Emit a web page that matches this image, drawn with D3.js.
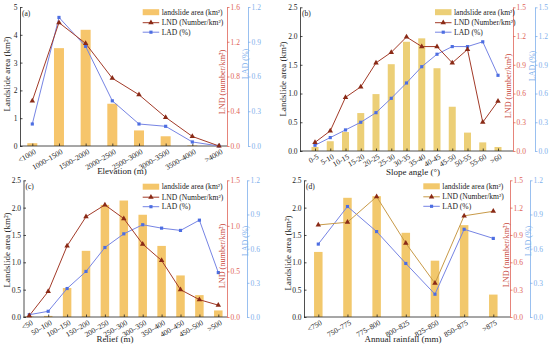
<!DOCTYPE html>
<html lang="en">
<head>
<meta charset="UTF-8">
<title>Landslide distribution</title>
<script src="https://cdn.jsdelivr.net/npm/d3@7"></script>
<style>
  html, body { margin: 0; padding: 0; background: #fff; }
  svg { display: block; font-family: "Liberation Serif", "Times New Roman", serif; }
</style>
</head>
<body>
<script>
// (a) elevation
const elevCats = ["<1000", "1000–1500", "1500–2000", "2000–2500", "2500–3000", "3000–3500", "3500–4000", ">4000"];
const elevArea = [0.1, 3.52, 4.18, 1.52, 0.56, 0.35, 0.02, 0];
const elevLND  = [0.52, 1.42, 1.18, 0.78, 0.59, 0.33, 0.11, 0.0];
const elevLAD  = [0.19, 1.11, 0.86, 0.39, 0.19, 0.17, 0.035, 0.0];

// (b) slope angle
const slopeCats = ["0-5", "5-10", "10-15", "15-20", "20-25", "25-30", "30-35", "35-40", "40-45", "45-50", "50-55", "55-60", ">60"];
const slopeArea = [0.07, 0.17, 0.33, 0.66, 0.99, 1.51, 1.90, 1.96, 1.44, 0.77, 0.32, 0.15, 0.07];
const slopeLND  = [0.09, 0.21, 0.56, 0.67, 0.92, 1.03, 1.19, 1.09, 1.09, 0.92, 1.06, 0.30, 0.52];
const slopeLAD  = [0.06, 0.14, 0.22, 0.30, 0.40, 0.55, 0.71, 0.88, 1.01, 1.09, 1.09, 1.14, 0.79];

// (c) relief
const reliefCats = ["<50", "50–100", "100–150", "150–200", "200–250", "250–300", "300–350", "350–400", "400–450", "450–500", ">500"];
const reliefArea = [0.01, 0.02, 0.53, 1.21, 2.05, 2.13, 1.87, 1.30, 0.76, 0.40, 0.12];
const reliefLND  = [0.015, 0.28, 0.78, 1.10, 1.23, 1.08, 0.80, 0.62, 0.30, 0.19, 0.13];
const reliefLAD  = [0.02, 0.05, 0.25, 0.40, 0.61, 0.73, 0.81, 0.78, 0.76, 0.85, 0.39];

// (d) annual rainfall
const rainCats = ["<750", "750–775", "775–800", "800–825", "825–850", "850–875", ">875"];
const rainArea = [1.19, 2.18, 2.21, 1.54, 1.03, 1.68, 0.41];
const rainLND  = [1.01, 1.04, 1.32, 0.81, 0.37, 1.11, 1.16];
const rainLAD  = [0.64, 0.97, 0.75, 0.47, 0.20, 0.77, 0.69];

// tick labels
const areaTicksA = [0, 1, 2, 3, 4, 5];
const areaTicks = [0, 0.5, 1.0, 1.5, 2.0, 2.5];
const lndTicksA = [0, 0.4, 0.8, 1.2, 1.6];
const lndTicks03 = [0, 0.3, 0.6, 0.9, 1.2, 1.5];
const lndTicksC = [0, 0.5, 1.0, 1.5];
const ladTicks12 = [0, 0.3, 0.6, 0.9, 1.2];
const ladTicks15 = [0, 0.3, 0.6, 0.9, 1.2, 1.5];

const legendLabels = ["landslide area (km²)", "LND (Number/km²)", "LAD (%)"];

const lndAxisColor = "#e06458";
const ladAxisColor = "#7fb0ec";
const ladLine = "#7684e4";
const ladMark = "#4d6ee2";

const svg = d3.select("body").append("svg")
  .attr("width", 550)
  .attr("height", 346);

function styleAxis(ax, color) {
  ax.attr("font-family", null).attr("font-size", 7.5).attr("color", color);
  ax.selectAll("path, line").attr("stroke-width", 0.8);
}

function drawPanel(p) {
  const g = svg.append("g");
  const x = d3.scalePoint().domain(p.cats).range([p.first, p.last]);
  const yA = d3.scaleLinear().domain([0, p.areaMax]).range([p.bottom, p.top]);
  const yN = d3.scaleLinear().domain([0, p.lndMax]).range([p.bottom, p.top]);
  const yD = d3.scaleLinear().domain([0, p.ladMax]).range([p.bottom, p.top]);

  // bars
  g.append("g").selectAll("rect")
    .data(p.cats)
    .join("rect")
    .attr("x", d => x(d) - p.barW / 2)
    .attr("width", p.barW)
    .attr("y", (d, i) => yA(p.area[i]))
    .attr("height", (d, i) => yA(0) - yA(p.area[i]))
    .attr("fill", p.barColor);

  // left axis, ticks pointing in
  g.append("g")
    .attr("transform", `translate(${p.left},0)`)
    .call(d3.axisLeft(yA).tickValues(p.areaTicks).tickFormat(p.areaFmt).tickSize(-2.5).tickSizeOuter(0).tickPadding(2.5))
    .call(ax => styleAxis(ax, "#222"));

  // bottom axis
  g.append("line")
    .attr("x1", p.left).attr("x2", p.right)
    .attr("y1", p.bottom).attr("y2", p.bottom)
    .attr("stroke", "#222").attr("stroke-width", 0.8);
  const xAx = g.append("g")
    .attr("transform", `translate(0,${p.bottom})`)
    .call(d3.axisBottom(x).tickSize(-2.5).tickSizeOuter(0).tickFormat(""));
  xAx.select(".domain").remove();
  styleAxis(xAx, "#222");

  g.append("g").selectAll("text")
    .data(p.cats)
    .join("text")
    .attr("transform", d => `translate(${x(d) + 3},${p.bottom + 5}) rotate(-30)`)
    .attr("text-anchor", "end")
    .attr("dominant-baseline", "central")
    .attr("font-size", 7.5)
    .attr("fill", "#222")
    .text(d => d);

  // LND axis
  g.append("g")
    .attr("transform", `translate(${p.right},0)`)
    .call(d3.axisRight(yN).tickValues(p.lndTicks).tickFormat(d3.format(p.lndFmt)).tickSize(2.5).tickSizeOuter(0).tickPadding(1))
    .call(ax => styleAxis(ax, lndAxisColor));

  // LAD axis
  g.append("g")
    .attr("transform", `translate(${p.lad},0)`)
    .call(d3.axisRight(yD).tickValues(p.ladTicks).tickFormat(d3.format(".1f")).tickSize(2.5).tickSizeOuter(0).tickPadding(1))
    .call(ax => styleAxis(ax, ladAxisColor));

  // lines
  const lndLine = d3.line().x((d, i) => x(p.cats[i])).y(d => yN(d));
  const ladLineGen = d3.line().x((d, i) => x(p.cats[i])).y(d => yD(d));

  g.append("path").attr("d", ladLineGen(p.lad_)).attr("fill", "none")
    .attr("stroke", ladLine).attr("stroke-width", 1);
  g.append("path").attr("d", lndLine(p.lnd)).attr("fill", "none")
    .attr("stroke", p.lndLine).attr("stroke-width", 1);

  const tri = d3.symbol(d3.symbolTriangle).size(13);
  const sq = d3.symbol(d3.symbolSquare).size(10);

  g.append("g").selectAll("path")
    .data(p.lad_)
    .join("path")
    .attr("d", sq)
    .attr("transform", (d, i) => `translate(${x(p.cats[i])},${yD(d)})`)
    .attr("fill", ladMark);
  g.append("g").selectAll("path")
    .data(p.lnd)
    .join("path")
    .attr("d", tri)
    .attr("transform", (d, i) => `translate(${x(p.cats[i])},${yN(d)})`)
    .attr("fill", "#8a2a16");

  // titles
  g.append("text")
    .attr("transform", `translate(${p.leftTitle[0]},${p.leftTitle[1]}) rotate(-90)`)
    .attr("text-anchor", "middle").attr("dominant-baseline", "central")
    .attr("font-size", 9).attr("fill", "#222")
    .text("Landslide area (km²)");
  g.append("text")
    .attr("transform", `translate(${p.lndTitle[0]},${p.lndTitle[1]}) rotate(-90)`)
    .attr("text-anchor", "middle").attr("dominant-baseline", "central")
    .attr("font-size", 8.2).attr("fill", "#c9473c")
    .text("LND (number/km²)");
  g.append("text")
    .attr("transform", `translate(${p.ladTitle[0]},${p.ladTitle[1]}) rotate(-90)`)
    .attr("text-anchor", "middle").attr("dominant-baseline", "central")
    .attr("font-size", 8).attr("fill", ladAxisColor)
    .text("LAD (%)");
  g.append("text")
    .attr("x", p.xTitle[0]).attr("y", p.xTitle[1])
    .attr("text-anchor", "middle").attr("dominant-baseline", "central")
    .attr("font-size", 9).attr("fill", "#222")
    .text(p.xLabel);
  g.append("text")
    .attr("x", p.left + 2).attr("y", p.top + 6)
    .attr("dominant-baseline", "central")
    .attr("font-size", 7.5).attr("fill", "#222")
    .text(p.tag);

  // legend
  const lg = g.append("g").attr("transform", `translate(${p.legend[0]},${p.legend[1]})`);
  const rowY = [0, 10.5, 20];
  lg.append("rect").attr("x", 0).attr("y", rowY[0] - 3).attr("width", 16.5).attr("height", 6).attr("fill", p.barColor);
  lg.append("line").attr("x1", 0).attr("x2", 16.5).attr("y1", rowY[1]).attr("y2", rowY[1])
    .attr("stroke", p.lndLine).attr("stroke-width", 1);
  lg.append("path").attr("d", tri).attr("transform", `translate(8.25,${rowY[1]})`).attr("fill", "#8a2a16");
  lg.append("line").attr("x1", 0).attr("x2", 16.5).attr("y1", rowY[2]).attr("y2", rowY[2])
    .attr("stroke", ladLine).attr("stroke-width", 1);
  lg.append("path").attr("d", sq).attr("transform", `translate(8.25,${rowY[2]})`).attr("fill", ladMark);
  lg.selectAll("text.lab")
    .data(legendLabels)
    .join("text")
    .attr("x", 19)
    .attr("y", (d, i) => rowY[i])
    .attr("dominant-baseline", "central")
    .attr("font-size", 7.6)
    .attr("fill", "#222")
    .text(d => d);
}

drawPanel({
  tag: "(a)", cats: elevCats, area: elevArea, lnd: elevLND, lad_: elevLAD,
  left: 20, right: 227, lad: 248, top: 7, bottom: 146, first: 32.3, last: 219,
  areaMax: 5, lndMax: 1.6, ladMax: 1.2, barW: 10, barColor: "#f6c56b",
  areaTicks: areaTicksA, areaFmt: d3.format("d"), lndTicks: lndTicksA, lndFmt: ".1f", ladTicks: ladTicks12,
  lndLine: "#a23a28",
  leftTitle: [7, 74], lndTitle: [222, 82], ladTitle: [245, 64], xTitle: [122, 171], xLabel: "Elevation (m)",
  legend: [142.7, 12.2]
});

drawPanel({
  tag: "(b)", cats: slopeCats, area: slopeArea, lnd: slopeLND, lad_: slopeLAD,
  left: 300, right: 513, lad: 535, top: 7.3, bottom: 151, first: 315, last: 498,
  areaMax: 2.5, lndMax: 1.5, ladMax: 1.5, barW: 7, barColor: "#eccf77",
  areaTicks: areaTicks, areaFmt: d3.format(".1f"), lndTicks: lndTicks03, lndFmt: ".1f", ladTicks: ladTicks15,
  lndLine: "#a23a28",
  leftTitle: [283, 79], lndTitle: [508, 86], ladTitle: [532, 66], xTitle: [413, 172], xLabel: "Slope angle (°)",
  legend: [435, 12.2]
});

drawPanel({
  tag: "(c)", cats: reliefCats, area: reliefArea, lnd: reliefLND, lad_: reliefLAD,
  left: 23.5, right: 227, lad: 247, top: 180.3, bottom: 317, first: 29.3, last: 218.3,
  areaMax: 2.5, lndMax: 1.5, ladMax: 1.2, barW: 8.5, barColor: "#f4c66b",
  areaTicks: areaTicks, areaFmt: d3.format(".1f"), lndTicks: lndTicksC, lndFmt: ".1f", ladTicks: ladTicks12,
  lndLine: "#a23a28",
  leftTitle: [7, 250], lndTitle: [222, 256], ladTitle: [245, 241], xTitle: [115, 339], xLabel: "Relief (m)",
  legend: [142.7, 186.7]
});

drawPanel({
  tag: "(d)", cats: rainCats, area: rainArea, lnd: rainLND, lad_: rainLAD,
  left: 304, right: 510, lad: 530, top: 180.3, bottom: 317, first: 318.3, last: 493.3,
  areaMax: 2.5, lndMax: 1.5, ladMax: 1.2, barW: 8.5, barColor: "#f2c86c",
  areaTicks: areaTicks, areaFmt: d3.format(".1f"), lndTicks: lndTicks03, lndFmt: ".1f", ladTicks: ladTicks12,
  lndLine: "#c89a48",
  leftTitle: [288, 253], lndTitle: [506, 255], ladTitle: [528, 241], xTitle: [403, 339], xLabel: "Annual rainfall (mm)",
  legend: [423.3, 186.3]
});
</script>
</body>
</html>
